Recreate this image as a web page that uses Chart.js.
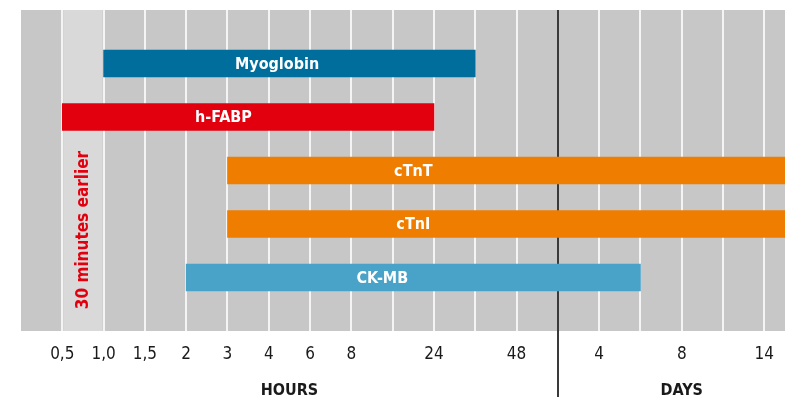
<!DOCTYPE html>
<html>
<head>
<meta charset="utf-8">
<script src="https://cdn.jsdelivr.net/npm/chart.js@4/dist/chart.umd.min.js"></script>
<style>
	html, body { margin: 0; padding: 0; background: #fff; }
	#wrap { width: 785px; height: 401px; position: relative; }
</style>
</head>
<body>
<div id="wrap"><canvas id="chart"></canvas></div>
<script>
// markers and the window (in axis steps) where each one can be detected
var markers = ["Myoglobin", "h-FABP", "cTnT", "cTnI", "CK-MB"];
var ranges = [[2, 11], [1, 10], [5, 18.5], [5, 18.5], [4, 15]];
var labelAt = [6.2, 4.9, 9.5, 9.5, 8.75];
var colors = ["#006e9d", "#e2000f", "#ef7d00", "#ef7d00", "#49a2c7"];

// x axis: one step per grid line, hours first then days
var tickLabels = ["", "0,5", "1,0", "1,5", "2", "3", "4", "6", "8", "", "24", "", "48", "", "4", "", "8", "", "14"];
var hoursDaysSplit = 13;
var earlierBand = [1, 2];
var earlierText = "30 minutes earlier";
var axisNames = [{ text: "HOURS", at: 6.5 }, { text: "DAYS", at: 16 }];

var FONT = "'DejaVu Sans Condensed', 'Liberation Sans Narrow', Roboto, sans-serif";

var background = {
	id: "background",
	beforeDraw: function (chart) {
		var ctx = chart.ctx, a = chart.chartArea;
		ctx.save();
		ctx.fillStyle = "#c6c7c6";
		ctx.fillRect(a.left, a.top, a.right - a.left, a.bottom - a.top);
		ctx.restore();
	},
	beforeDatasetsDraw: function (chart) {
		var ctx = chart.ctx, a = chart.chartArea, x = chart.scales.x;
		ctx.save();
		// light band for the first half hour
		var x1 = x.getPixelForValue(earlierBand[0]), x2 = x.getPixelForValue(earlierBand[1]);
		ctx.fillStyle = "#d9d9d9";
		ctx.fillRect(x1 + 1, a.top, x2 - x1 - 2, a.bottom - a.top);
		// hours / days divider
		var xs = Math.round(x.getPixelForValue(hoursDaysSplit));
		ctx.fillStyle = "#3a3a3a";
		ctx.fillRect(xs - 1, a.top, 2, 397 - a.top);
		ctx.translate((x1 + x2) / 2 + 1, 230);
		ctx.rotate(-Math.PI / 2);
		ctx.fillStyle = "#e2000f";
		ctx.font = "bold 17px " + FONT;
		ctx.textAlign = "center";
		ctx.textBaseline = "middle";
		ctx.fillText(earlierText, 0, 0);
		ctx.restore();
	},
	afterDatasetsDraw: function (chart) {
		var ctx = chart.ctx, x = chart.scales.x, y = chart.scales.y;
		ctx.save();
		// bar names
		ctx.fillStyle = "#fff";
		ctx.font = "bold 16px " + FONT;
		ctx.textAlign = "center";
		ctx.textBaseline = "middle";
		markers.forEach(function (m, i) {
			ctx.fillText(m, x.getPixelForValue(labelAt[i]), y.getPixelForValue(i + 1) + 1);
		});
		// axis names
		ctx.fillStyle = "#1a1a1a";
		axisNames.forEach(function (n) {
			ctx.fillText(n.text, x.getPixelForValue(n.at), 391);
		});
		ctx.restore();
	}
};

new Chart(document.getElementById("chart"), {
	type: "bar",
	data: {
		labels: [""].concat(markers, [""]),
		datasets: [{
			data: [null].concat(ranges, [null]),
			backgroundColor: [null].concat(colors, [null]),
			barThickness: 27,
			borderSkipped: false
		}]
	},
	options: {
		indexAxis: "y",
		responsive: true,
		maintainAspectRatio: false,
		animation: false,
		layout: { padding: { left: 21, right: 0, top: 10, bottom: 0 } },
		plugins: {
			legend: { display: false },
			tooltip: { enabled: false }
		},
		scales: {
			x: {
				type: "linear",
				min: 0,
				max: 18.5,
				border: { display: false },
				grid: {
					drawTicks: false,
					lineWidth: 2,
					color: function (c) {
						var v = c.tick && c.tick.value;
						return (v === 0 || v === hoursDaysSplit) ? "rgba(0,0,0,0)" : "#f4f4f4";
					}
				},
				ticks: {
					autoSkip: false,
					maxRotation: 0,
					padding: 13,
					color: "#1a1a1a",
					font: { family: FONT, size: 17 },
					callback: function (v) { return tickLabels[v] || ""; }
				},
				afterBuildTicks: function (s) {
					s.ticks = tickLabels.map(function (t, i) { return { value: i }; });
				},
				afterFit: function (s) { s.height = 70; s.paddingRight = 0; }
			},
			y: {
				type: "category",
				offset: false,
				display: false,
				grid: { display: false }
			}
		}
	},
	plugins: [background]
});
</script>
</body>
</html>
